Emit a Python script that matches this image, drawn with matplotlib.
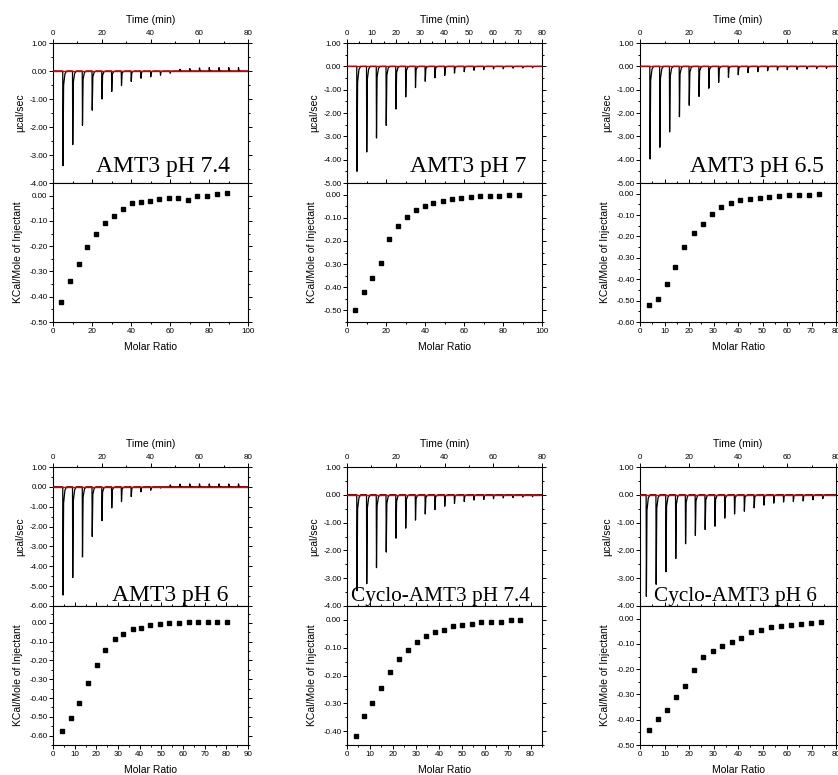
import matplotlib.pyplot as plt
from matplotlib.ticker import MultipleLocator, FormatStrFormatter

plt.rcParams['font.family'] = ['Liberation Sans', 'DejaVu Sans']
plt.rcParams['axes.unicode_minus'] = False

# injection times (min)
inj_times = [4, 8, 12, 16, 20, 24, 28, 32, 36, 40, 44, 48, 52, 56, 60, 64, 68, 72, 76]
inj_times_cyc60 = [2.5, 6.5, 10.5, 14.5, 18.5, 22.5, 26.5, 30.5, 34.5, 38.5, 42.5,
                   46.5, 50.5, 54.5, 58.5, 62.5, 66.5, 70.5, 74.5]

# peak heights of the raw thermograms (ucal/sec)
peak_amt3_74 = [-3.38, -2.63, -1.94, -1.40, -1.00, -0.73, -0.52, -0.37, -0.26, -0.21,
                -0.15, -0.08, 0.06, 0.09, 0.11, 0.12, 0.12, 0.12, 0.12]
peak_amt3_70 = [-4.50, -3.67, -3.07, -2.53, -1.83, -1.31, -0.91, -0.64, -0.49, -0.39,
                -0.29, -0.23, -0.17, -0.14, -0.11, -0.10, -0.08, -0.07, -0.06]
peak_amt3_65 = [-3.97, -3.47, -2.81, -2.16, -1.67, -1.29, -0.94, -0.69, -0.47, -0.36,
                -0.27, -0.23, -0.19, -0.16, -0.14, -0.13, -0.11, -0.10, -0.09]
peak_amt3_60 = [-5.45, -4.57, -3.53, -2.50, -1.70, -1.06, -0.74, -0.49, -0.25, -0.17,
                -0.06, 0.10, 0.14, 0.15, 0.15, 0.15, 0.15, 0.15, 0.15]
peak_cyc_74 = [-3.45, -3.20, -2.62, -2.06, -1.56, -1.20, -0.91, -0.69, -0.53, -0.41,
               -0.31, -0.24, -0.19, -0.17, -0.14, -0.11, -0.10, -0.08, -0.07]
peak_cyc_60 = [-3.65, -3.22, -2.77, -2.29, -1.76, -1.46, -1.25, -1.13, -0.84, -0.69,
               -0.59, -0.47, -0.37, -0.30, -0.26, -0.24, -0.22, -0.18, -0.14]

# integrated heats vs molar ratio (kcal/mole of injectant)
ratio_amt3_74 = [4.3, 8.5, 13.2, 17.4, 21.9, 26.5, 31.1, 35.7, 40.3, 45.0, 49.7, 54.5,
                 59.3, 64.3, 69.1, 74.0, 79.1, 84.1, 89.2]
heat_amt3_74 = [-0.421, -0.339, -0.270, -0.205, -0.153, -0.109, -0.082, -0.054, -0.029,
                -0.025, -0.020, -0.014, -0.011, -0.008, -0.017, 0.000, -0.001, 0.008, 0.011]

ratio_amt3_70 = [4.3, 8.7, 12.9, 17.4, 21.6, 26.1, 30.6, 35.2, 39.8, 44.3, 49.1, 53.9,
                 58.6, 63.4, 68.3, 73.2, 78.2, 83.1, 88.0]
heat_amt3_70 = [-0.500, -0.420, -0.362, -0.297, -0.190, -0.135, -0.095, -0.068, -0.048,
                -0.037, -0.028, -0.020, -0.016, -0.010, -0.007, -0.006, -0.006, -0.003, -0.003]

ratio_amt3_65 = [3.5, 7.2, 10.9, 14.4, 18.1, 21.9, 25.7, 29.4, 33.2, 37.0, 41.0, 44.9,
                 48.8, 52.8, 56.9, 61.0, 65.0, 69.1, 73.2]
heat_amt3_65 = [-0.520, -0.492, -0.424, -0.341, -0.251, -0.184, -0.140, -0.093, -0.061,
                -0.045, -0.031, -0.023, -0.020, -0.014, -0.011, -0.008, -0.006, -0.006, -0.003]

ratio_amt3_60 = [4.3, 8.1, 12.1, 16.1, 20.2, 24.2, 28.4, 32.5, 36.7, 40.8, 44.9, 49.4,
                 53.7, 58.1, 62.6, 67.0, 71.5, 75.9, 80.5]
heat_amt3_60 = [-0.578, -0.507, -0.425, -0.320, -0.222, -0.146, -0.084, -0.057, -0.034,
                -0.025, -0.012, -0.004, -0.002, 0.002, 0.004, 0.004, 0.005, 0.007, 0.007]

ratio_cyc_74 = [3.9, 7.3, 11.1, 15.0, 18.7, 22.6, 26.5, 30.4, 34.3, 38.3, 42.2, 46.3,
                50.3, 54.5, 58.6, 62.8, 67.0, 71.3, 75.5]
heat_cyc_74 = [-0.416, -0.345, -0.300, -0.245, -0.187, -0.142, -0.108, -0.079, -0.058,
               -0.042, -0.035, -0.023, -0.018, -0.013, -0.007, -0.007, -0.007, -0.002, -0.002]

ratio_cyc_60 = [3.8, 7.2, 10.9, 14.6, 18.4, 22.0, 25.9, 29.7, 33.6, 37.4, 41.4, 45.3,
                49.4, 53.3, 57.4, 61.5, 65.6, 69.8, 74.0]
heat_cyc_60 = [-0.441, -0.397, -0.360, -0.310, -0.268, -0.203, -0.153, -0.129, -0.107,
               -0.092, -0.078, -0.054, -0.044, -0.034, -0.030, -0.025, -0.022, -0.017, -0.015]

labels = ["AMT3 pH 7.4", "AMT3 pH 7", "AMT3 pH 6.5",
          "AMT3 pH 6", "Cyclo-AMT3 pH 7.4", "Cyclo-AMT3 pH 6"]

panels = [
    dict(times=inj_times, peaks=peak_amt3_74, ratio=ratio_amt3_74, heat=heat_amt3_74,
         top_ylim=(-4, 1), time_step=20, bot_ylim=(-0.5, 0.05), bot_xlim=(0, 100), ratio_step=20),
    dict(times=inj_times, peaks=peak_amt3_70, ratio=ratio_amt3_70, heat=heat_amt3_70,
         top_ylim=(-5, 1), time_step=10, bot_ylim=(-0.55, 0.05), bot_xlim=(0, 100), ratio_step=20),
    dict(times=inj_times, peaks=peak_amt3_65, ratio=ratio_amt3_65, heat=heat_amt3_65,
         top_ylim=(-5, 1), time_step=20, bot_ylim=(-0.6, 0.05), bot_xlim=(0, 80), ratio_step=10),
    dict(times=inj_times, peaks=peak_amt3_60, ratio=ratio_amt3_60, heat=heat_amt3_60,
         top_ylim=(-6, 1), time_step=20, bot_ylim=(-0.65, 0.09), bot_xlim=(0, 90), ratio_step=10),
    dict(times=inj_times, peaks=peak_cyc_74, ratio=ratio_cyc_74, heat=heat_cyc_74,
         top_ylim=(-4, 1), time_step=20, bot_ylim=(-0.45, 0.05), bot_xlim=(0, 85), ratio_step=10),
    dict(times=inj_times_cyc60, peaks=peak_cyc_60, ratio=ratio_cyc_60, heat=heat_cyc_60,
         top_ylim=(-4, 1), time_step=20, bot_ylim=(-0.5, 0.05), bot_xlim=(0, 80), ratio_step=10),
]

W, H = 838, 775
col_left = [53, 347, 640]
col_width = [195, 195, 196]
row_y = [(43, 183, 322), (467, 606, 745)]  # top, split, bottom in pixels
text_pos = [(0.908, 0.079, 17), (0.918, 0.079, 17), (0.94, 0.079, 17),
            (0.90, 0.038, 17), (0.938, 0.038, 15.3), (0.90, 0.038, 15.3)]


def style_axis(ax):
    for s in ax.spines.values():
        s.set_linewidth(0.8)
    ax.tick_params(which='both', direction='out', top=True, right=True,
                   labelsize=5.8, width=0.7, pad=1.5)
    ax.tick_params(which='major', length=2.6)
    ax.tick_params(which='minor', length=1.5)


def trace(times, peaks):
    # each injection: sharp spike then fast recovery to baseline
    t, p = [0], [0]
    for t0, h in zip(times, peaks):
        t += [t0, t0 + 0.1, t0 + 0.35, t0 + 0.9, t0 + 1.6]
        p += [0, h, 0.15 * h, 0.03 * h, 0]
    t.append(80)
    p.append(0)
    return t, p


fig = plt.figure(figsize=(W / 100, H / 100), dpi=100)

for i, pn in enumerate(panels):
    r, c = divmod(i, 3)
    y0, y1, y2 = row_y[r]
    left = col_left[c] / W
    width = col_width[c] / W

    ax_t = fig.add_axes([left, 1 - y1 / H, width, (y1 - y0) / H])
    ax_b = fig.add_axes([left, 1 - y2 / H, width, (y2 - y1) / H])

    # raw heat flow
    t, p = trace(pn['times'], pn['peaks'])
    ax_t.plot(t, p, color='black', lw=0.9)
    ax_t.axhline(0, color='#d00000', lw=1.0, zorder=3)
    ax_t.set_xlim(0, 80)
    ax_t.set_ylim(*pn['top_ylim'])
    ax_t.xaxis.set_major_locator(MultipleLocator(pn['time_step']))
    ax_t.xaxis.set_minor_locator(MultipleLocator(pn['time_step'] / 2))
    ax_t.yaxis.set_major_locator(MultipleLocator(1))
    ax_t.yaxis.set_minor_locator(MultipleLocator(0.5))
    ax_t.yaxis.set_major_formatter(FormatStrFormatter('%.2f'))
    style_axis(ax_t)
    ax_t.tick_params(labeltop=True, labelbottom=False)
    ax_t.xaxis.set_label_position('top')
    ax_t.set_xlabel('Time (min)', fontsize=7.5)
    ax_t.xaxis.set_label_coords(0.5, 1.143)
    ax_t.set_ylabel('\u00b5cal/sec', fontsize=7.5)
    ax_t.yaxis.set_label_coords(-0.144, 0.5)

    tx, ty, fs = text_pos[i]
    ax_t.text(tx, ty, labels[i], transform=ax_t.transAxes, ha='right', va='baseline',
              fontsize=fs, family='Liberation Serif')

    # integrated heats
    ax_b.plot(pn['ratio'], pn['heat'], 's', color='black', ms=3.1)
    ax_b.set_xlim(*pn['bot_xlim'])
    ax_b.set_ylim(*pn['bot_ylim'])
    ax_b.xaxis.set_major_locator(MultipleLocator(pn['ratio_step']))
    ax_b.xaxis.set_minor_locator(MultipleLocator(pn['ratio_step'] / 2))
    ax_b.yaxis.set_major_locator(MultipleLocator(0.1))
    ax_b.yaxis.set_minor_locator(MultipleLocator(0.05))
    ax_b.yaxis.set_major_formatter(FormatStrFormatter('%.2f'))
    style_axis(ax_b)
    ax_b.set_xlabel('Molar Ratio', fontsize=7.5)
    ax_b.xaxis.set_label_coords(0.5, -0.145)
    ax_b.set_ylabel('KCal/Mole of Injectant', fontsize=7.5)
    ax_b.yaxis.set_label_coords(-0.154, 0.5)

fig.savefig('out.png', dpi=100)
